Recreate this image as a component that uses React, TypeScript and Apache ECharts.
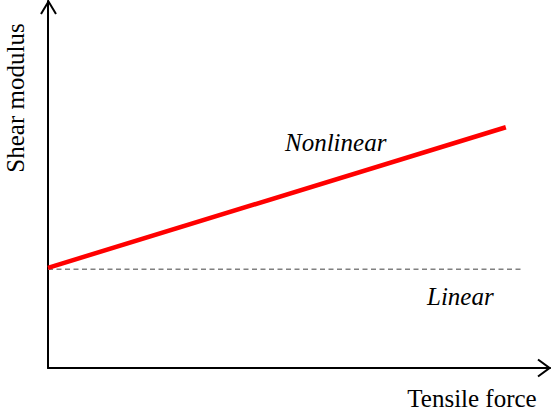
import React, { useEffect, useRef } from "react";
import * as echarts from "echarts";

const nonlinearX = [0, 91.2];
const nonlinearY = [27.3, 65.6];
const linearX = [0, 94.4];
const linearY = [26.9, 26.9];
const xAxisTitle = "Tensile force";
const yAxisTitle = "Shear modulus";
const nonlinearLabel = "Nonlinear";
const linearLabel = "Linear";

const FONT = '"Liberation Serif", "Times New Roman", serif';

export default function App() {
  const ref = useRef<HTMLDivElement>(null);
  useEffect(() => {
    document.body.style.margin = "0";
    if (!ref.current) return;
    const chart = echarts.init(ref.current, undefined, { renderer: "svg" });
    const toPairs = (xs: number[], ys: number[]) => xs.map((x, i) => [x, ys[i]]);
    chart.setOption({
      animation: false,
      backgroundColor: "#ffffff",
      grid: { left: 48, right: 1, top: 1, bottom: 45, containLabel: false },
      xAxis: {
        type: "value",
        min: 0,
        max: 100,
        axisLine: { show: true, onZero: false, lineStyle: { color: "#000", width: 2 } },
        axisTick: { show: false },
        axisLabel: { show: false },
        splitLine: { show: false },
      },
      yAxis: {
        type: "value",
        min: 0,
        max: 100,
        axisLine: { show: true, onZero: false, lineStyle: { color: "#000", width: 2 } },
        axisTick: { show: false },
        axisLabel: { show: false },
        splitLine: { show: false },
      },
      series: [
        {
          type: "line",
          name: linearLabel,
          data: toPairs(linearX, linearY),
          showSymbol: false,
          lineStyle: { color: "#808080", width: 1.5, type: [5, 3.5] },
          z: 2,
        },
        {
          type: "line",
          name: nonlinearLabel,
          data: toPairs(nonlinearX, nonlinearY),
          showSymbol: false,
          lineStyle: { color: "#ff0000", width: 4.5, cap: "butt" },
          z: 3,
        },
      ],
      graphic: [
        {
          type: "polyline",
          shape: { points: [[41, 14], [48.5, 1.5], [56, 14]] },
          style: { stroke: "#000", lineWidth: 2, fill: "none" },
        },
        {
          type: "polyline",
          shape: { points: [[538, 359.5], [549.5, 368], [538, 376.5]] },
          style: { stroke: "#000", lineWidth: 2, fill: "none" },
        },
        {
          type: "text",
          x: 285,
          y: 142,
          style: {
            text: nonlinearLabel,
            font: `italic 25px ${FONT}`,
            fill: "#000",
            align: "left",
            verticalAlign: "middle",
          },
        },
        {
          type: "text",
          x: 427,
          y: 296,
          style: {
            text: linearLabel,
            font: `italic 25px ${FONT}`,
            fill: "#000",
            align: "left",
            verticalAlign: "middle",
          },
        },
        {
          type: "text",
          x: 472,
          y: 398,
          style: {
            text: xAxisTitle,
            font: `25px ${FONT}`,
            fill: "#000",
            align: "center",
            verticalAlign: "middle",
          },
        },
        {
          type: "text",
          x: 15,
          y: 98,
          rotation: Math.PI / 2,
          style: {
            text: yAxisTitle,
            font: `25px ${FONT}`,
            fill: "#000",
            align: "center",
            verticalAlign: "middle",
          },
        },
      ],
    });
    return () => chart.dispose();
  }, []);
  return <div ref={ref} style={{ width: 551, height: 413 }} />;
}
